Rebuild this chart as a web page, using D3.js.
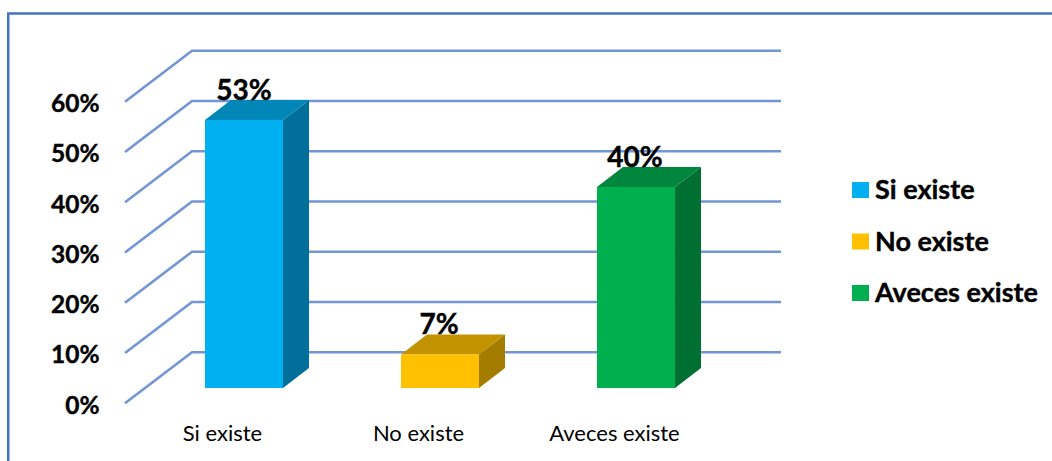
<!DOCTYPE html>
<html>
<head>
<meta charset="utf-8">
<script src="https://cdn.jsdelivr.net/npm/d3@7/dist/d3.min.js"></script>
<style>
html,body{margin:0;padding:0;background:#fff;overflow:hidden}
svg{display:block}
text{font-family:Lato,"Open Sans",sans-serif;fill:#000}
</style>
</head>
<body>
<svg id="chart" width="1052" height="461"></svg>
<script>
const categories = ["Si existe", "No existe", "Aveces existe"];
const seriesValues = [53.33, 6.67, 40];
const seriesLabels = ["53%", "7%", "40%"];
const tickValues = [0, 10, 20, 30, 40, 50, 60];
const frontColors = ["#00B0F0", "#FFC000", "#00B050"];
const topColors = ["#0087B8", "#C29200", "#00863D"];
const sideColors = ["#00709A", "#A37C00", "#007032"];

const W = 1052, H = 461;
const svg = d3.select("#chart");
const defs = svg.append("defs");
const soft = defs.append("filter").attr("id", "soft")
  .attr("filterUnits", "userSpaceOnUse").attr("x", 0).attr("y", 0).attr("width", W).attr("height", H);
soft.append("feGaussianBlur").attr("stdDeviation", 0.5);

// Frame
svg.append("path")
  .attr("d", d3.line()([[8.25, H], [8.25, 13.5], [W, 13.5]]))
  .attr("fill", "none").attr("stroke", "#4472C4").attr("stroke-width", 2.5);

// Scales
const y = d3.scaleLinear().domain([0, 60]).range([403.3, 101.7]);
const x = d3.scaleBand().domain(categories).range([146, 734]).paddingInner(0.602).paddingOuter(0.301);
const wallX = 125, wallDx = 67, wallDy = -51;   // floor depth
const wallRight = 781;
const barBase = 388;               // front of the bars on the floor
const barDx = 26, barDy = -20;     // bar depth
const unit = y(0) - y(1);
const barY = v => barBase - v * unit;
const line = d3.line();

// Gridlines
const grid = svg.append("g").attr("filter", "url(#soft)");
grid.selectAll("path").data(tickValues).join("path")
  .attr("d", t => line([[wallX, y(t)], [wallX + wallDx, y(t) + wallDy], [wallRight, y(t) + wallDy]]))
  .attr("fill", "none").attr("stroke", "#7395D6").attr("stroke-width", 2.6);

// Bars
const bars = svg.append("g").attr("filter", "url(#soft)").selectAll("g")
  .data(categories.map((c, i) => ({c, v: seriesValues[i], i}))).join("g");
bars.append("path").attr("fill", d => sideColors[d.i]).attr("d", d => {
  const r = x(d.c) + x.bandwidth(), t = barY(d.v);
  return line([[r, barBase], [r + barDx, barBase + barDy], [r + barDx, t + barDy], [r, t]]) + "Z";
});
bars.append("path").attr("fill", d => topColors[d.i]).attr("d", d => {
  const l = x(d.c), r = l + x.bandwidth(), t = barY(d.v);
  return line([[l, t], [l + barDx, t + barDy], [r + barDx, t + barDy], [r, t]]) + "Z";
});
bars.append("rect").attr("fill", d => frontColors[d.i])
  .attr("x", d => x(d.c)).attr("width", x.bandwidth())
  .attr("y", d => barY(d.v)).attr("height", d => barBase - barY(d.v));

// Data labels
svg.append("g").selectAll("text").data(categories).join("text")
  .attr("x", c => x(c) + x.bandwidth() / 2 + (c === "Si existe" ? 0 : -1))
  .attr("y", (c, i) => barY(seriesValues[i]) + barDy)
  .attr("text-anchor", "middle").attr("font-size", 28).attr("font-weight", 700)
  .attr("stroke", "#000").attr("stroke-width", 0.4)
  .text((c, i) => seriesLabels[i]);

// Y axis
const yAxis = d3.axisLeft(y).tickValues(tickValues).tickFormat(d => d + "%").tickSize(0).tickPadding(0);
const yG = svg.append("g").attr("transform", "translate(99.5,0)").call(yAxis);
yG.select(".domain").remove();
yG.selectAll("text").attr("font-size", 24.5).attr("font-weight", 700).attr("fill", "#000")
  .attr("stroke", "#000").attr("stroke-width", 0.4)
  .style("font-family", "Lato").attr("dy", "0.4em");

// X axis
const xAxis = d3.axisBottom(x).tickSize(0).tickPadding(0);
const xG = svg.append("g").attr("transform", "translate(-21.5,0)").call(xAxis);
xG.select(".domain").remove();
xG.selectAll("text").attr("y", 441).attr("dy", 0).attr("font-size", 22).attr("fill", "#222")
  .style("font-family", "Lato");

// Legend
const legendY = [190, 241.5, 293];
const legend = svg.append("g").selectAll("g").data(categories).join("g")
  .attr("transform", (c, i) => `translate(852,${legendY[i]})`);
legend.append("rect").attr("y", -8).attr("width", 17).attr("height", 16).attr("fill", (c, i) => frontColors[i]);
legend.append("text").attr("x", 23).attr("y", 9).attr("font-size", 27).attr("font-weight", 700)
  .attr("stroke", "#000").attr("stroke-width", 0.4).text(c => c);
</script>
</body>
</html>
